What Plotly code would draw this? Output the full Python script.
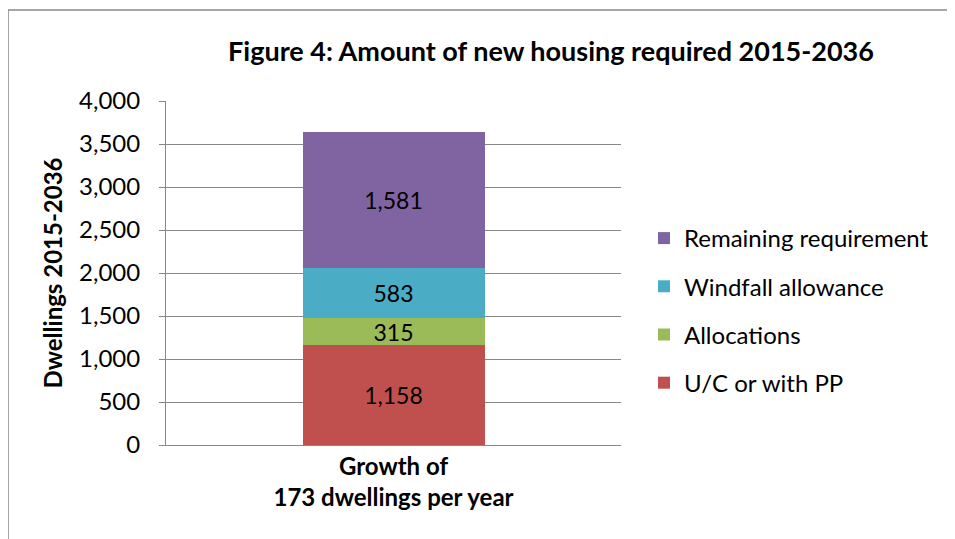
import plotly.graph_objects as go

categories = ["Growth of<br>173 dwellings per year"]
series_names = ["U/C or with PP", "Allocations", "Windfall allowance", "Remaining requirement"]
series_values = [[1158], [315], [583], [1581]]
series_colors = ["#C0504D", "#9BBB59", "#4BACC6", "#8064A2"]
legend_ranks = [4, 3, 2, 1]
y_ticks = [0, 500, 1000, 1500, 2000, 2500, 3000, 3500, 4000]

FONT = "Lato"
OFF = 8  # page body margin offset

fig = go.Figure()
for name, vals, col, rk in zip(series_names, series_values, series_colors, legend_ranks):
    fig.add_trace(go.Bar(
        x=categories, y=vals, name=name, marker=dict(color=col, line=dict(width=0)),
        text=[f"{v:,}" for v in vals], textposition="inside", insidetextanchor="middle",
        constraintext="none", cliponaxis=False,
        textfont=dict(size=23, color="black", family=FONT), legendgroup=name, legendrank=rk,
    ))

fig.update_layout(
    barmode="stack", bargap=0.6,
    width=955, height=539,
    margin=dict(l=166 - OFF, r=955 - 621 + OFF, t=101 - OFF, b=539 - 445 + OFF),
    paper_bgcolor="white", plot_bgcolor="white",
    font=dict(family=FONT, size=24, color="black"),
    title=dict(text="<b>Figure 4: Amount of new housing required 2015-2036</b>",
               x=(551 - OFF) / 955, xanchor="center", y=1 - (52 - OFF) / 539, yanchor="middle",
               font=dict(size=27, family=FONT, color="black")),
    legend=dict(x=(644 - 166) / 455, y=(445 - 216) / 344, xanchor="left", yanchor="top",
                traceorder="grouped", tracegroupgap=14,
                font=dict(size=24, family=FONT), itemwidth=30, bgcolor="rgba(0,0,0,0)"),
)
fig.update_yaxes(range=[0, 4000], tickvals=y_ticks, tickformat=",", showgrid=True,
                 gridcolor="#888888", gridwidth=1, ticks="outside", ticklen=6, tickcolor="#888888",
                 showline=True, linecolor="#888888", linewidth=1, zeroline=False,
                 tickfont=dict(size=24), ticklabelstandoff=14,
                 title=dict(text="<b>Dwellings 2015-2036</b>", font=dict(size=24), standoff=9))
fig.update_xaxes(showline=True, linecolor="#888888", linewidth=1, ticks="",
                 tickfont=dict(size=24, family=FONT), range=[-0.5, 0.5],
                 ticktext=["<b>Growth of</b><br><b>173 dwellings per year</b>"], tickvals=categories)

# outer chart border (top and left edges visible)
fig.add_shape(type="line", xref="paper", yref="paper",
              x0=(8 - 166) / 455, x1=(970 - 166) / 455, y0=(445 - 10) / 344, y1=(445 - 10) / 344,
              line=dict(color="#888888", width=1.5))
fig.add_shape(type="line", xref="paper", yref="paper",
              x0=(8 - 166) / 455, x1=(8 - 166) / 455, y0=(445 - 10) / 344, y1=(445 - 560) / 344,
              line=dict(color="#888888", width=1.5))

fig.write_html("out.html")
